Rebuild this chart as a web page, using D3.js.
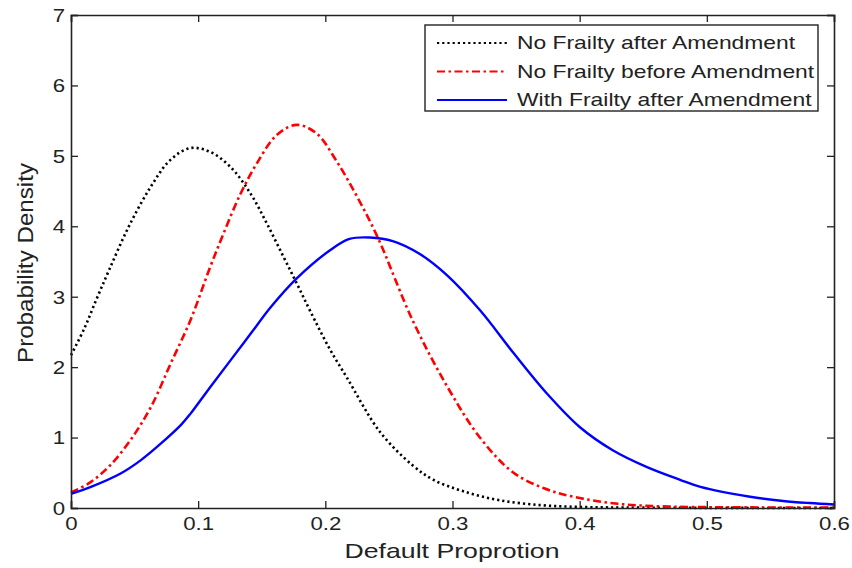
<!DOCTYPE html>
<html><head><meta charset="utf-8">
<script src="https://cdn.jsdelivr.net/npm/d3@7"></script>
<style>body{margin:0;background:#fff}svg{display:block}</style>
</head><body><svg id="c" width="852" height="568"></svg>
<script>
const xTicks = [0,0.1,0.2,0.3,0.4,0.5,0.6];
const yTicks = [0,1,2,3,4,5,6,7];
const seriesNames = ["No Frailty after Amendment","No Frailty before Amendment","With Frailty after Amendment"];
const xBlack = [0,0.0105,0.0197,0.03,0.045,0.062,0.078,0.0936,0.109,0.125,0.141,0.154,0.167,0.1775,0.188,0.2037,0.217,0.243,0.269,0.285,0.308,0.337,0.37,0.4,0.45,0.6];
const yBlack = [2.17,2.55,2.95,3.38,3.98,4.54,4.94,5.11,5.06,4.85,4.47,4.04,3.57,3.19,2.80,2.25,1.85,1.08,0.60,0.40,0.24,0.11,0.04,0.015,0.005,0];
const xRed = [0,0.0157,0.031,0.047,0.063,0.0786,0.094,0.109,0.12,0.133,0.146,0.162,0.1775,0.193,0.209,0.225,0.241,0.269,0.296,0.322,0.348,0.372,0.395,0.43,0.47,0.52,0.6];
const yRed = [0.22,0.37,0.61,0.97,1.44,2.06,2.67,3.40,3.90,4.45,4.89,5.30,5.44,5.32,4.92,4.42,3.85,2.65,1.72,0.99,0.50,0.28,0.16,0.06,0.02,0.01,0.005];
const xBlue = [0,0.0157,0.039,0.055,0.071,0.0865,0.094,0.110,0.126,0.1415,0.157,0.1775,0.2037,0.219,0.235,0.253,0.274,0.296,0.322,0.348,0.374,0.4,0.426,0.453,0.479,0.495,0.534,0.56,0.581,0.6];
const yBlue = [0.2,0.30,0.49,0.68,0.92,1.18,1.34,1.73,2.11,2.48,2.85,3.26,3.66,3.82,3.84,3.79,3.61,3.30,2.80,2.20,1.63,1.15,0.82,0.58,0.40,0.30,0.16,0.10,0.07,0.05];

const svg = d3.select("#c");
const L=71,R=834,T=15,B=508;
const x = d3.scaleLinear().domain([0,0.6]).range([L,R]);
const y = d3.scaleLinear().domain([0,7]).range([B,T]);
const font = "Arial, 'Liberation Sans', sans-serif";
const SX = 1.27; // horizontal glyph stretch seen in the reference
const ink = "#222";

const series = [
  {xs:xBlack, ys:yBlack, color:"#000", dash:"2.2,3", w:2.6},
  {xs:xRed, ys:yRed, color:"#ff0000", dash:"8,3.5,2.5,3.5", w:2.6},
  {xs:xBlue, ys:yBlue, color:"#0000ff", dash:null, w:2.4}
];
const line = d3.line().x(d=>x(d[0])).y(d=>y(d[1])).curve(d3.curveCatmullRom.alpha(0.5));
series.forEach(s=>{
  svg.append("path").datum(s.xs.map((v,i)=>[v,s.ys[i]]))
    .attr("d",line).attr("fill","none").attr("stroke",s.color)
    .attr("stroke-width",s.w).attr("stroke-dasharray",s.dash);
});

const tk=7;
const gB = svg.append("g").attr("transform",`translate(0,${B})`)
  .call(d3.axisBottom(x).tickValues(xTicks).tickSize(-tk).tickFormat(d=>d===0?"0":d3.format(".1f")(d)));
const gT = svg.append("g").attr("transform",`translate(0,${T})`)
  .call(d3.axisTop(x).tickValues(xTicks).tickSize(-tk).tickFormat(""));
const gL = svg.append("g").attr("transform",`translate(${L},0)`)
  .call(d3.axisLeft(y).tickValues(yTicks).tickSize(-tk).tickFormat(d3.format("d")));
const gR = svg.append("g").attr("transform",`translate(${R},0)`)
  .call(d3.axisRight(y).tickValues(yTicks).tickSize(-tk).tickFormat(""));
[gB,gT,gL,gR].forEach(g=>{
  g.select(".domain").attr("stroke",ink).attr("stroke-width",1.6);
  g.selectAll(".tick line").attr("stroke",ink).attr("stroke-width",1.3);
  g.selectAll("text").attr("font-family",font).attr("font-size",17.5).attr("fill",ink);
});
gB.selectAll("text").attr("y",22).attr("dy",0).attr("x",0).attr("transform",`scale(${SX},1)`);
gL.selectAll("text").attr("x",-6/SX).attr("dy","0.36em").attr("transform",`scale(${SX},1)`);

svg.append("text").attr("x",452).attr("y",558).attr("text-anchor","middle")
  .attr("font-family",font).attr("font-size",21).attr("fill",ink)
  .attr("textLength",215).attr("lengthAdjust","spacingAndGlyphs").text("Default Proprotion");
svg.append("text").attr("transform",`translate(33,263) rotate(-90)`).attr("text-anchor","middle")
  .attr("font-family",font).attr("font-size",22).attr("fill",ink)
  .attr("textLength",200).attr("lengthAdjust","spacingAndGlyphs").text("Probability Density");

const lg = svg.append("g");
lg.append("rect").attr("x",425).attr("y",25).attr("width",393).attr("height",86)
  .attr("fill","#fff").attr("stroke",ink).attr("stroke-width",1.4);
seriesNames.forEach((n,i)=>{
  const yy = 43 + i*28.5;
  const s = series[i];
  lg.append("line").attr("x1",437).attr("x2",507).attr("y1",yy).attr("y2",yy)
    .attr("stroke",s.color).attr("stroke-width",2).attr("stroke-dasharray",s.dash);
  lg.append("text").attr("transform",`translate(517,${yy}) scale(${SX},1)`).attr("dy","0.36em")
    .attr("font-family",font).attr("font-size",18).attr("fill",ink).text(n);
});
</script></body></html>
